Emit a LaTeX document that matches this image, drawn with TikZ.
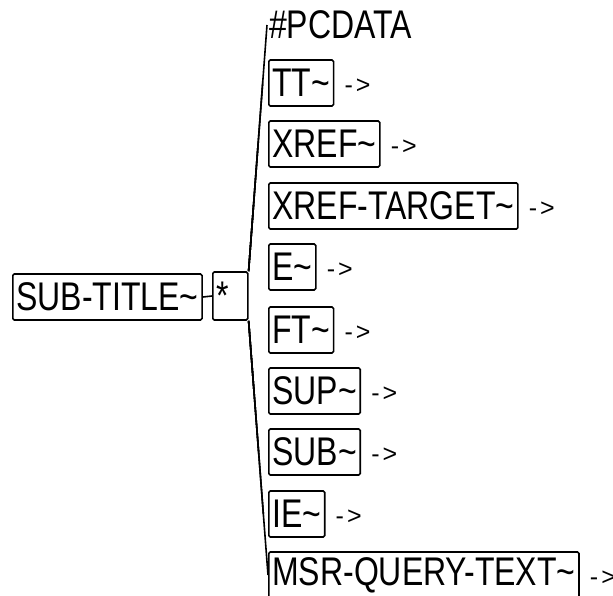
\documentclass[tikz,border=0pt]{standalone}
\usepackage{fontspec}
\newfontfamily\dtdfont[FakeStretch=0.8]{Liberation Sans}
\newfontfamily\arrfont{Liberation Sans}
\usetikzlibrary{positioning,calc}
\tikzset{elem/.style={draw,line width=1.6pt,rounded corners=1.5pt,minimum height=46pt,inner xsep=3.5pt,
    inner ysep=0pt,font=\dtdfont\fontsize{40}{48}\selectfont},
  rep/.style={elem,minimum width=35pt,minimum height=48pt,text width=27pt,align=left,inner xsep=2pt},
  more/.style={font=\arrfont\fontsize{25}{30}\selectfont,inner sep=0pt},
  link/.style={line width=1.6pt}}
\begin{document}
\begin{tikzpicture}[x=1pt,y=-1pt]
\useasboundingbox (0,0) rectangle (613,595);
\node[elem,anchor=west] (subtitle) at (12,297) {SUB-TITLE\textasciitilde};
\node[rep,anchor=west] (star) at (212,296) {*};
\draw[link] (subtitle.east) -- (star.west);
\node[anchor=west,inner xsep=2pt,font=\dtdfont\fontsize{40}{48}\selectfont] (pcdata) at (267,25) {\#PCDATA};
\draw[link] (star.north east) -- (pcdata.west);
% children of the repetition
\foreach \nm/\txt/\yy in {tt/TT/83, xref/XREF/144, xreftarget/XREF-TARGET/206, e/E/267, ft/FT/330,
    sup/SUP/391, sub/SUB/452, ie/IE/514, msrquery/MSR-QUERY-TEXT/575}{
  \node[elem,anchor=west] (\nm) at (268,\yy) {\txt\textasciitilde};
  \node[more,right=10pt of \nm,yshift=-3pt] (\nm-more) {-\kern3pt>};
}
\foreach \nm/\cn/\far in {tt/north east/pcdata, xref/north east/pcdata, xreftarget/north east/pcdata,
    e/north east/pcdata, ft/south east/msrquery, sup/south east/msrquery, sub/south east/msrquery,
    ie/south east/msrquery, msrquery/south east/msrquery}
  \draw[link] (star.\cn) -- ($(star.\cn)!(\nm.west)!(\far.west)$);
\end{tikzpicture}
\end{document}
